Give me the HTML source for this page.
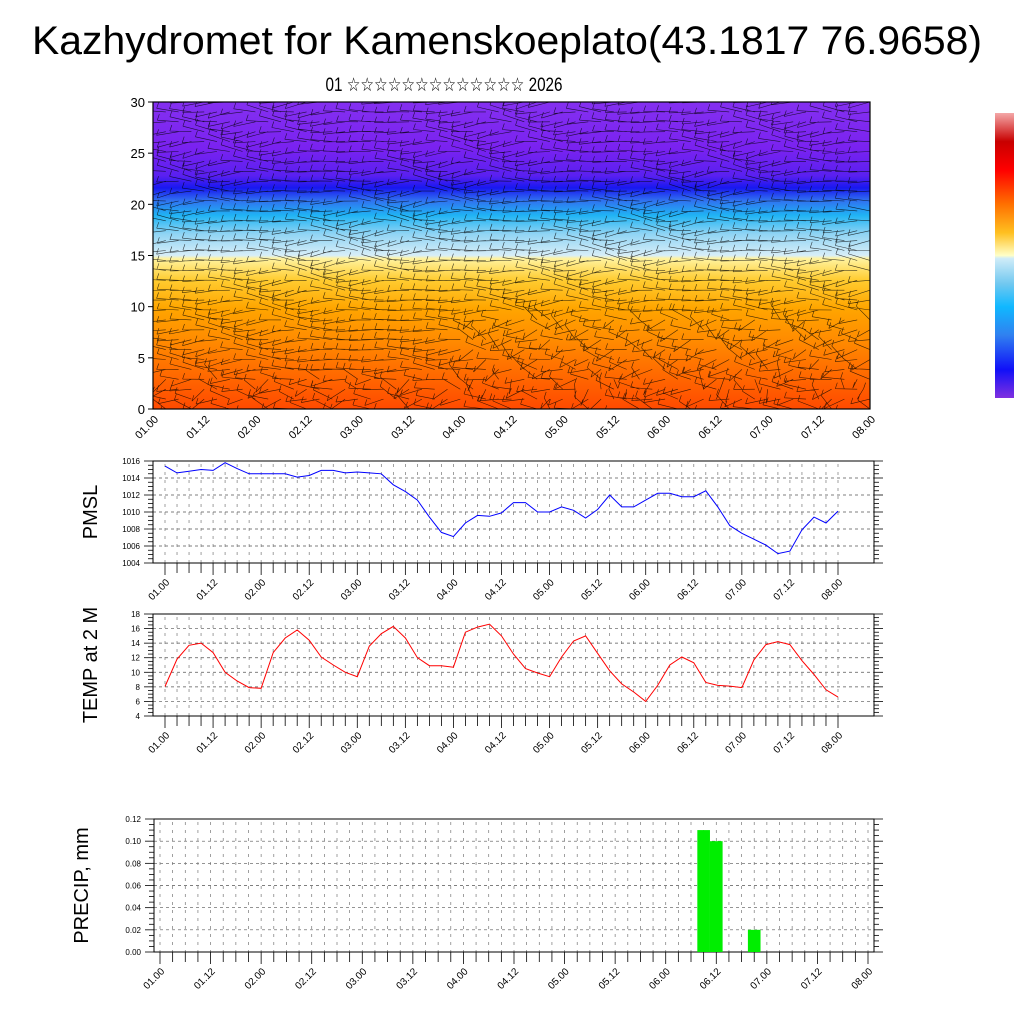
<!DOCTYPE html>
<html><head><meta charset="utf-8"><style>
html,body{margin:0;padding:0;background:#fff}
svg{display:block;font-family:"Liberation Sans","DejaVu Sans",sans-serif}
</style></head><body>
<svg id="chart" width="1024" height="1024" viewBox="0 0 1024 1024" xmlns="http://www.w3.org/2000/svg">
<defs>
<linearGradient id="vgrad" x1="0" y1="1" x2="0" y2="0">
<stop offset="0" stop-color="#ff4a00"/>
<stop offset="0.1" stop-color="#ff6600"/>
<stop offset="0.22" stop-color="#ff8a00"/>
<stop offset="0.33" stop-color="#ffa600"/>
<stop offset="0.42" stop-color="#ffcc30"/>
<stop offset="0.49" stop-color="#fff3a0"/>
<stop offset="0.5" stop-color="#d8eef8"/>
<stop offset="0.57" stop-color="#90d4f4"/>
<stop offset="0.63" stop-color="#20b4f4"/>
<stop offset="0.68" stop-color="#3070f0"/>
<stop offset="0.72" stop-color="#1818f0"/>
<stop offset="0.76" stop-color="#5a20f0"/>
<stop offset="0.85" stop-color="#7a22f0"/>
<stop offset="1" stop-color="#8430f0"/>
</linearGradient>
<linearGradient id="cbar" x1="0" y1="0" x2="0" y2="1">
<stop offset="0" stop-color="#f4a8a8"/>
<stop offset="0.1" stop-color="#c80000"/>
<stop offset="0.2" stop-color="#ff0000"/>
<stop offset="0.32" stop-color="#ff7000"/>
<stop offset="0.42" stop-color="#ffc020"/>
<stop offset="0.5" stop-color="#ffffc8"/>
<stop offset="0.51" stop-color="#d0ecf8"/>
<stop offset="0.6" stop-color="#70c8f0"/>
<stop offset="0.68" stop-color="#10b8ff"/>
<stop offset="0.78" stop-color="#3080f0"/>
<stop offset="0.9" stop-color="#1010f8"/>
<stop offset="1" stop-color="#8030e0"/>
</linearGradient>
<clipPath id="topclip"><rect x="153" y="102" width="717" height="307"/></clipPath>
</defs>
<text x="507" y="54" font-size="40" text-anchor="middle" textLength="950" lengthAdjust="spacingAndGlyphs">Kazhydromet for Kamenskoeplato(43.1817 76.9658)</text>
<text x="444" y="91" font-size="19" text-anchor="middle" textLength="237" lengthAdjust="spacingAndGlyphs">01 ☆☆☆☆☆☆☆☆☆☆☆☆☆ 2026</text>
<g id="top"></g>
<rect x="995" y="113" width="19" height="285" fill="url(#cbar)"/>
<g id="pmsl"></g>
<g id="temp"></g>
<g id="precip"></g>
</svg>
<script>
const timeLabels = ["01.00","01.12","02.00","02.12","03.00","03.12","04.00","04.12","05.00","05.12","06.00","06.12","07.00","07.12","08.00"];
const pmslValues = [1015.4,1014.6,1014.8,1015.0,1014.9,1015.8,1015.1,1014.5,1014.5,1014.5,1014.5,1014.1,1014.3,1014.9,1014.9,1014.6,1014.7,1014.6,1014.5,1013.2,1012.4,1011.4,1009.4,1007.6,1007.1,1008.7,1009.6,1009.5,1009.9,1011.1,1011.1,1010.0,1010.0,1010.6,1010.2,1009.3,1010.3,1012.0,1010.6,1010.6,1011.4,1012.2,1012.2,1011.8,1011.8,1012.5,1010.6,1008.4,1007.5,1006.8,1006.1,1005.1,1005.4,1007.9,1009.4,1008.7,1010.1];
const pmslTicks = [1004,1006,1008,1010,1012,1014,1016];
const tempValues = [8.05,11.8,13.7,14.0,12.7,10.0,8.8,7.9,7.8,12.7,14.7,15.8,14.4,12.1,11.0,10.0,9.4,13.6,15.3,16.3,14.7,12.0,10.9,10.9,10.7,15.5,16.2,16.6,15.0,12.5,10.5,9.9,9.4,12.1,14.3,15.0,12.6,10.2,8.4,7.3,6.0,8.2,11.0,12.1,11.3,8.6,8.2,8.1,7.9,11.7,13.8,14.2,13.8,11.6,9.7,7.6,6.6];
const tempTicks = [4,6,8,10,12,14,16,18];
const precipValues = [0,0,0,0,0,0,0,0,0,0,0,0,0,0,0,0,0,0,0,0,0,0,0,0,0,0,0,0,0,0,0,0,0,0,0,0,0,0,0,0,0,0,0,0.11,0.10,0,0,0.02,0,0,0,0,0,0,0,0];
const precipTicks = ["0.00","0.02","0.04","0.06","0.08","0.10","0.12"];
const heightTicks = [0,5,10,15,20,25,30];

const NS="http://www.w3.org/2000/svg";
function mk(tag,attrs,parent,text){const e=document.createElementNS(NS,tag);for(const k in attrs)e.setAttribute(k,attrs[k]);if(text!==undefined)e.textContent=text;parent.appendChild(e);return e;}

// ---------- Top panel ----------
(function(){
 const g=document.getElementById('top');
 const X0=153,X1=870,Y0=102,Y1=409;
 const yH=v=>Y1-(v/30)*(Y1-Y0);
 const bg=mk('rect',{x:X0,y:Y0,width:X1-X0,height:Y1-Y0,fill:'url(#vgrad)'},g);
 
 
 const barbs=mk('g',{'clip-path':'url(#topclip)',stroke:'#000','stroke-width':'0.6','stroke-opacity':'0.75',fill:'none'},g);
 
 
 let d='';
 for(let j=0;j<=31;j++){
  for(let i=0;i<=56;i++){
   const x=X0+i*(X1-X0)/56, y=Y1-j*(Y1-Y0)/31;
   let a=Math.PI+0.25*Math.sin(i*0.7+j*1.3);
   if(j<10&&i>24) a+=0.9*Math.sin(i*1.7+j*2.1);
   if(j<4) a+=0.8*Math.sin(i*2.3+j);
   const L=22;
   const ex=x+L*Math.cos(a), ey=y+L*Math.sin(a)*0.6-4*Math.sin(i+j);
   d+=`M${x.toFixed(1)} ${y.toFixed(1)}L${ex.toFixed(1)} ${ey.toFixed(1)}`;
   d+=`M${ex.toFixed(1)} ${ey.toFixed(1)}l2 -6`;
  }
 }
 mk('path',{d:d},barbs);
 const fr=mk('rect',{x:X0,y:Y0,width:X1-X0,height:Y1-Y0,fill:'none',stroke:'#000','stroke-width':1.2},g);
 
 
 heightTicks.forEach(v=>{
  mk('line',{x1:X0-5,x2:X0,y1:yH(v),y2:yH(v),stroke:'#000'},g);
  const t=mk('text',{x:X0-8,y:yH(v)+5,'font-size':13,'text-anchor':'end'},g,v);
  
  
 });
 timeLabels.forEach((l,i)=>{
  const x=X0+i*(X1-X0)/14;
  const t=mk('text',{x:x+6,y:420,'font-size':11,'text-anchor':'end',transform:`rotate(-45 ${x+6} 420)`},g,l);
  
  
 });
})();

// ---------- Line panels ----------
function panel(id,box,dx0,dx1,ticks,tickFmt,label,labelX,drawData){
 const g=document.getElementById(id);
 const [X0,Y0,X1,Y1]=box;
 const vmin=ticks[0],vmax=ticks[ticks.length-1];
 const yS=v=>Y1-(v-vmin)/(vmax-vmin)*(Y1-Y0);
 const step=(dx1-dx0)/56;
 const xS=i=>dx0+i*step;
 const grid=mk('g',{stroke:'#555','stroke-width':0.7,'stroke-dasharray':'3,3'},g);
 
 
 ticks.forEach((v,k)=>{ if(k>0&&k<ticks.length-1) mk('line',{x1:X0,x2:X1,y1:yS(v),y2:yS(v)},grid); });
 const vg=mk('g',{stroke:'#777','stroke-width':0.7,'stroke-dasharray':'3,5'},g);
 for(let i=0;i<=56;i++) mk('line',{x1:xS(i),x2:xS(i),y1:Y0+3,y2:Y1},vg);
 const tg=mk('g',{stroke:'#000','stroke-width':0.8},g);
 for(let k=0;k<ticks.length;k++){
  const y=yS(ticks[k]);
  mk('line',{x1:X0-9,x2:X0,y1:y,y2:y},tg);
  mk('line',{x1:X1,x2:X1+9,y1:y,y2:y},tg);
  if(k<ticks.length-1){
   for(let m=1;m<4;m++){
    const yy=y-(yS(ticks[k])-yS(ticks[k+1]))*m/4;
    mk('line',{x1:X0-5,x2:X0,y1:yy,y2:yy},tg);
    mk('line',{x1:X1,x2:X1+5,y1:yy,y2:yy},tg);
   }
  }
  const t=mk('text',{x:X0-13,y:y+3,'font-size':8,'text-anchor':'end'},g,tickFmt(ticks[k]));
  
  
 }
 for(let i=0;i<=56;i++){
  const len=(i%4===0)?12:10;
  mk('line',{x1:xS(i),x2:xS(i),y1:Y1,y2:Y1+len},tg);
 }
 const fr=mk('rect',{x:X0,y:Y0,width:X1-X0,height:Y1-Y0,fill:'none',stroke:'#000','stroke-width':1},g);
 
 
 timeLabels.forEach((l,i)=>{
  const x=xS(i*4);
  const t=mk('text',{x:x+5,y:Y1+20,'font-size':10,'text-anchor':'end',transform:`rotate(-45 ${x+5} ${Y1+20})`},g,l);
  
  
 });
 const cy=(Y0+Y1)/2;
 const yl=mk('text',{x:labelX,y:cy,'font-size':20,'text-anchor':'middle',transform:`rotate(-90 ${labelX} ${cy})`},g,label);
 
 
 drawData(g,xS,yS,step);
}

panel('pmsl',[153,461,874,563],165,838,pmslTicks,v=>v,'PMSL',97,(g,xS,yS)=>{
 const p=mk('polyline',{points:pmslValues.map((v,i)=>xS(i).toFixed(1)+','+yS(v).toFixed(1)).join(' '),fill:'none',stroke:'#0000ff','stroke-width':1},g);
 
 
});
panel('temp',[153,614,874,716],165,838,tempTicks,v=>v,'TEMP at 2 M',97,(g,xS,yS)=>{
 const p=mk('polyline',{points:tempValues.map((v,i)=>xS(i).toFixed(1)+','+yS(v).toFixed(1)).join(' '),fill:'none',stroke:'#ff0000','stroke-width':1},g);
 
 
});
panel('precip',[154,819,874,952],160,868,precipTicks.map(Number),v=>v.toFixed(2),'PRECIP, mm',88,(g,xS,yS,step)=>{
 precipValues.forEach((v,i)=>{
  if(v<=0) return;
  const b=mk('rect',{x:xS(i)-step/2,y:yS(v),width:step,height:yS(0)-yS(v),fill:'#00ee00'},g);
  
  
 });
});
</script>
</body></html>
